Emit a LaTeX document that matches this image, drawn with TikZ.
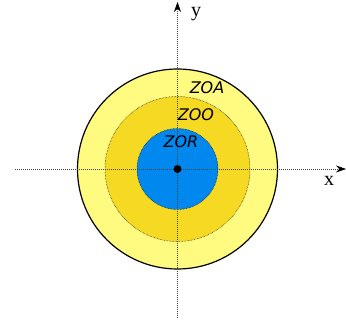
\documentclass[tikz,border=0pt]{standalone}
\usepackage{fontspec}
\setmainfont{Liberation Serif}
\newfontfamily\zonefont{DejaVu Sans}
\usetikzlibrary{positioning,arrows.meta}
\definecolor{zoayellow}{RGB}{255,250,128}
\definecolor{zoogold}{RGB}{245,217,35}
\definecolor{zorblue}{RGB}{0,136,238}

\begin{document}
\begin{tikzpicture}[
x=1pt, y=-1pt,
zone/.style={circle, inner sep=0pt, outer sep=0pt},
ring/.style={zone, draw=black, densely dotted, line width=0.5pt},
axis/.style={-{Stealth[length=10pt,width=7pt,color=black]}, line width=0.6pt, dash pattern=on 1pt off 1pt, draw=black!75},
zlabel/.style={font=\zonefont\itshape\fontsize{16}{16}\selectfont, inner sep=0pt},
alabel/.style={font=\fontsize{20}{20}\selectfont, inner sep=0pt}
]
\useasboundingbox (0,0) rectangle (346,328);
\coordinate (o) at (177.5,169);
\node[zone, fill=zoayellow, draw=black, line width=1.2pt, minimum size=200pt] (zoa) at (o) {};
\node[ring, fill=zoogold, minimum size=145pt] (zoo) at (o) {};
\node[ring, fill=zorblue, minimum size=81pt] (zor) at (o) {};

% axes
\coordinate (xl) at (15,169);
\coordinate (xr) at (346,169);
\coordinate (yb) at (177.5,318);
\coordinate (yt) at (177.5,2);
\draw[axis] (xl) -- (xr);
\draw[axis] (yb) -- (yt);
\fill (o) circle (4pt);

\node[alabel] (xlab) at (329,181) {x};
\node[alabel] (ylab) at (196,14) {y};

\node[zlabel] (zoatext) at (207,88) {ZOA};
\node[zlabel] (zootext) at (196,114.5) {ZOO};
\node[zlabel] (zortext) at (181,142) {ZOR};
\end{tikzpicture}
\end{document}
